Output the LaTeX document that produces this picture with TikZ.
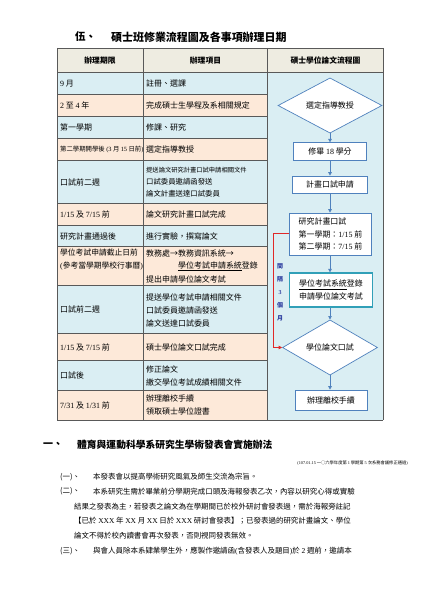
\documentclass[tikz,border=0pt]{standalone}
\usepackage{fontspec}
\setmainfont{Noto Sans CJK TC}
\newfontfamily\tm{Liberation Serif}
\usetikzlibrary{shapes.geometric,arrows.meta}
\definecolor{hdr}{HTML}{EEECE1}
\definecolor{lblue}{HTML}{DAEEF3}
\definecolor{peach}{HTML}{FDE9D9}
\definecolor{gridc}{HTML}{595959}
\definecolor{flowc}{HTML}{4F81BD}
\definecolor{tealc}{HTML}{31A0B8}
\definecolor{redc}{HTML}{E02828}
\definecolor{noteblue}{HTML}{2E3EA0}
\newcommand{\tnum}[1]{{\tm #1}}
\begin{document}
\begin{tikzpicture}[x=1bp,y=-1bp,
  cell/.style={anchor=west,inner sep=0pt,font=\fontsize{8}{13}\selectfont},
  hdrtext/.style={inner sep=0pt,font=\bfseries\fontsize{7.8}{10}\selectfont},
  fbox/.style={draw=flowc,fill=white,line width=0.7bp,inner sep=1bp,font=\fontsize{8}{12.5}\selectfont},
  fdiam/.style={diamond,draw=flowc,fill=white,line width=0.7bp,inner sep=0pt,font=\fontsize{8}{10}\selectfont},
  farrow/.style={draw=flowc,line width=0.7bp,-{Triangle[length=3.5bp,width=3.5bp]}},
  body/.style={anchor=west,inner sep=0pt,font=\fontsize{7.5}{10}\selectfont},
  gridline/.style={draw=gridc,line width=0.6bp}
]
\useasboundingbox (0,0) rectangle (420,593);
\fill[white] (0,0) rectangle (420,593);

% title
\node[anchor=west,inner sep=0pt,font=\bfseries\fontsize{10.5}{12}\selectfont] (t1) at (75,37) {伍、};
\node[anchor=west,inner sep=0pt,font=\bfseries\fontsize{11}{12}\selectfont] (t2) at (111,37) {碩士班修業流程圖及各事項辦理日期};

% table fills
\fill[hdr] (57,48) rectangle (383,72.7);
\fill[lblue] (267.7,72.7) rectangle (383,420);
\foreach \a/\b/\c in {72.7/94.3/lblue,94.3/116/peach,116/138.3/lblue,138.3/160/peach,160/203.3/lblue,203.3/225/peach,225/246.7/lblue,246.7/285/peach,285/333.3/lblue,333.3/360/peach,360/390/lblue,390/420/peach}
  \fill[\c] (57,\a) rectangle (267.7,\b);
% grid
\foreach \y in {72.7,94.3,116,138.3,160,203.3,225,246.7,285,333.3,360,390}
  \draw[gridline] (57,\y) -- (267.7,\y);
\draw[gridline] (57,48) -- (383,48);
\draw[gridline] (267.7,72.7) -- (383,72.7);
\draw[gridline] (57,420) -- (383,420);
\foreach \x in {57,143.3,267.7,383}
  \draw[gridline] (\x,48) -- (\x,420);

% header
\node[hdrtext] (h1) at (100,60.5) {辦理期限};
\node[hdrtext] (h2) at (205.5,60.5) {辦理項目};
\node[hdrtext] (h3) at (325.5,60.5) {碩士學位論文流程圖};

% column 1
\node[cell] (c1) at (60,83.5) {\tnum{9} 月};
\node[cell] (c2) at (60,105.2) {\tnum{2} 至 \tnum{4} 年};
\node[cell] (c3) at (60,127.2) {第一學期};
\node[cell,font=\fontsize{6.4}{8}\selectfont] (c4) at (60,149.2) {第二學期開學後 \tnum{(3} 月 \tnum{15} 日前\tnum{)}};
\node[cell] (c5) at (60,182) {口試前二週};
\node[cell] (c6) at (60,214.2) {\tnum{1/15} 及 \tnum{7/15} 前};
\node[cell] (c7) at (60,236) {研究計畫通過後};
\node[cell,font=\fontsize{7.8}{9}\selectfont] (c8a) at (60,253) {學位考試申請截止日前};
\node[cell,font=\fontsize{7.8}{9}\selectfont] (c8b) at (60,266) {\tnum{(}參考當學期學校行事曆\tnum{)}};
\node[cell] (c9) at (60,309.5) {口試前二週};
\node[cell] (c10) at (60,347) {\tnum{1/15} 及 \tnum{7/15} 前};
\node[cell] (c11) at (60,375) {口試後};
\node[cell] (c12) at (60,405) {\tnum{7/31} 及 \tnum{1/31} 前};

% column 2
\node[cell] (d1t) at (146,83.5) {註冊、選課};
\node[cell] (d2t) at (146,105.2) {完成碩士生學程及系相關規定};
\node[cell] (d3t) at (146,127.2) {修課、研究};
\node[cell] (d4t) at (146,149.2) {選定指導教授};
\node[cell,font=\fontsize{6.3}{8}\selectfont] (d5a) at (146,170) {提送論文研究計畫口試申請相關文件};
\node[cell,font=\fontsize{7.4}{9}\selectfont] (d5b) at (146,182) {口試委員邀請函發送};
\node[cell,font=\fontsize{7.4}{9}\selectfont] (d5c) at (146,194) {論文計畫送達口試委員};
\node[cell] (d6t) at (146,214.2) {論文研究計畫口試完成};
\node[cell] (d7t) at (146,236) {進行實驗，撰寫論文};
\node[cell] (d8a) at (146,253) {教務處→教務資訊系統→};
\node[cell] (d8b) at (178,266.5) {\underline{學位考試申請系統}登錄};
\node[cell] (d8c) at (146,279) {提出申請學位論文考試};
\node[cell] (d9a) at (146,297) {提送學位考試申請相關文件};
\node[cell] (d9b) at (146,310) {口試委員邀請函發送};
\node[cell] (d9c) at (146,323) {論文送達口試委員};
\node[cell] (d10t) at (146,347) {碩士學位論文口試完成};
\node[cell] (d11a) at (146,369) {修正論文};
\node[cell] (d11b) at (146,382) {繳交學位考試成績相關文件};
\node[cell] (d12a) at (146,398.5) {辦理離校手續};
\node[cell] (d12b) at (146,411.5) {領取碩士學位證書};

% flowchart
\node[fdiam,minimum width=104bp,minimum height=37.6bp] (f1) at (330,105.5) {選定指導教授};
\node[fbox,minimum width=73bp,minimum height=17.3bp] (f2) at (330,151.4) {修畢 \tnum{18} 學分};
\node[fbox,minimum width=75bp,minimum height=17bp] (f3) at (330,184.5) {計畫口試申請};
\node[fbox,minimum width=82.5bp,minimum height=42bp,align=left] (f4) at (330.5,234) {研究計畫口試\\第一學期：\tnum{1/15} 前\\第二學期：\tnum{7/15} 前};
\node[fbox,draw=tealc,line width=1.2bp,minimum width=83.5bp,minimum height=34bp,align=center] (f5) at (331,290) {\underline{學位考試系統}登錄\\申請學位論文考試};
\node[fdiam,minimum width=95bp,minimum height=48.4bp] (f6) at (330,347.5) {學位論文口試};
\node[fbox,minimum width=72bp,minimum height=20bp] (f7) at (331,400) {辦理離校手續};

\draw[farrow] (f1.south) -- (f1.south |- f2.north);
\draw[farrow] (f1.south |- f2.south) -- (f1.south |- f3.north);
\draw[farrow] (f1.south |- f3.south) -- (f1.south |- f4.north);
\draw[farrow] (f1.south |- f4.south) -- (f1.south |- f5.north);
\draw[farrow] (f1.south |- f5.south) -- (f6.north);
\draw[farrow] (f6.south) -- (f1.south |- f7.north);

\coordinate (rc) at (273.3,233);
\draw[draw=redc,line width=0.9bp,-{Triangle[length=3.5bp,width=3.5bp]}] (f4.west |- rc) -- (rc) |- (f6.west);
\node[inner sep=0pt,align=center,text=noteblue,font=\bfseries\fontsize{6}{13}\selectfont] (gap) at (280,292.5) {間\\隔\\\tnum{3}\\個\\月};

% section below
\node[anchor=west,inner sep=0pt,font=\bfseries\fontsize{10}{12}\selectfont] (s1) at (43,445) {一、};
\node[anchor=west,inner sep=0pt,font=\bfseries\fontsize{9.8}{12}\selectfont] (s2) at (77,445) {體育與運動科學系研究生學術發表會實施辦法};
\node[anchor=east,inner sep=0pt,font=\fontsize{4.3}{5}\selectfont] (note) at (408,463.5) {\tnum{(107.01.15} 一○六學年度第 \tnum{1} 學期第 \tnum{5} 次系務會議修正通過\tnum{)}};

\node[body] (p1n) at (60,477) {(一)、};
\node[body] (p1) at (93,477) {本發表會以提高學術研究風氣及師生交流為宗旨。};
\node[body] (p2n) at (60,491.5) {(二)、};
\node[body] (p2) at (93,491.5) {本系研究生需於畢業前分學期完成口頭及海報發表乙次，內容以研究心得或實驗};
\node[body] (p2b) at (74,506.5) {結果之發表為主，若發表之論文為在學期間已於校外研討會發表過，需於海報旁註記};
\node[body] (p2c) at (74,521) {【已於 \tnum{XXX} 年 \tnum{XX} 月 \tnum{XX} 日於 \tnum{XXX} 研討會發表】；已發表過的研究計畫論文、學位};
\node[body] (p2d) at (74,536) {論文不得於校內讀書會再次發表，否則視同發表無效。};
\node[body] (p3n) at (60,551.5) {(三)、};
\node[body] (p3) at (93,551.5) {與會人員除本系肄業學生外，應製作邀請函\tnum{(}含發表人及題目\tnum{)}於 \tnum{2} 週前，邀請本};
\end{tikzpicture}
\end{document}
